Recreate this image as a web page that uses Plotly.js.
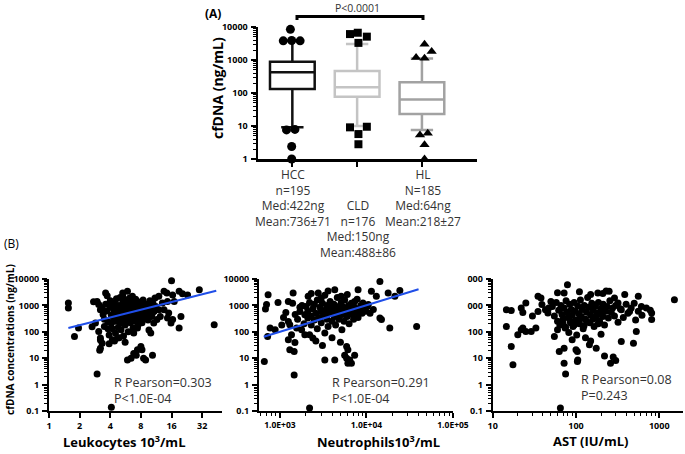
<!DOCTYPE html>
<html><head><meta charset="utf-8">
<script src="https://cdn.plot.ly/plotly-3.0.1.min.js"></script>
<style>html,body{margin:0;padding:0;background:#fff}#chart{width:685px;height:454px}</style>
</head><body><div id="chart"></div>
<script>
// ---------- Panel A data ----------
const groups = ['HCC','CLD','HL'];
const groupLabels = ['HCC<br>n=195<br>Med:422ng<br>Mean:736±71','CLD<br>n=176<br>Med:150ng<br>Mean:488±86','HL<br>N=185<br>Med:64ng<br>Mean:218±27'];
const q1 = [132, 77, 23];
const med = [422, 150, 64];
const q3 = [890, 465, 210];
const lowW = [9.1, 10, 7.6];
const upW = [3800, 3030, 1120];
const hccOut = [8500, 3800, 3900, 3800, 7.6, 7.9, 2.4, 1.0];
const hccJit = [-0.03, -0.14, -0.01, 0.12, -0.09, 0.04, -0.01, -0.01];
const cldOut = [6100, 6700, 5100, 3300, 9.1, 9.5, 5.7, 2.8];
const cldJit = [-0.11, 0.01, 0.15, 0.02, -0.11, 0.15, 0.02, 0.02];
const hlOut = [3000, 1800, 1200, 1130, 5.3, 6.0, 2.7, 1.0];
const hlJit = [0.04, 0.15, -0.09, 0.04, -0.03, 0.09, 0.04, 0.04];
const yTicksA = ['1','10','100','1000','10000'];

// ---------- Panel B data ----------
const leukoX = [1.55,1.55,1.78,1.95,2.65,2.74,2.97,4.1,3.6,3.73,2.97,3.08,3.2,2.86,3.08,3.2,3.33,3.2,5.9,6.4,7.2,4.2,4.7,5.3,5.3,5.9,6.6,7.4,7.1,3.2,3.15,
 16,30,19,20.5,23,13.5,14.4,16.4,12,13,14.6,11.2,12,13.5,15,17,19.8,19,42,15.8,16.4,14.6,12.4,11.5,10.4,10.7,9.6,10,7.4,6.8,8,8.2,8.5,8.9,10.4,6.8,7.4,
 3.3,3.4,3.5,3.5,3.6,3.7,3.8,3.8,3.9,4.0,4.0,4.1,4.1,4.2,4.3,4.3,4.4,4.4,4.5,4.5,4.6,4.6,4.7,4.8,4.8,4.9,5.0,5.0,5.1,5.1,5.2,5.2,5.3,5.4,5.4,5.5,5.5,5.6,5.7,5.7,5.8,5.9,6.0,6.0,6.1,6.2,6.2,6.3,6.4,6.5,6.5,6.6,6.7,6.8,6.9,7.0,7.0,7.1,7.2,7.3,7.4,7.5,7.6,7.7,7.8,7.9,8.0,8.1,8.2,8.3,8.4,8.5,8.6,8.8,9.0,9.2,9.4,9.6,9.8,10.0,10.2,10.5,10.8,11.0,4.4,3.9,5.6,4.9,
 4.5,5.0,5.5,6.0,6.5,7.0,7.5,8.0,5.2,6.2,7.2,4.8];
const leukoY = [1230,800,66,138,155,1380,2.5,0.14,2950,2340,1400,1070,690,214,103,58,37,24,8.6,10,13,50,58,2950,2200,3400,2200,1400,910,49,20,
 8500,3900,3400,2750,2500,3400,2950,2500,2200,1230,1400,910,690,690,510,1400,380,138,185,214,290,330,380,290,510,214,118,90,138,90,28,21,10,8.6,13,15,21,
 800,450,300,160,1100,620,240,130,75,1500,900,420,210,130,700,330,1200,560,90,250,1800,780,400,150,1000,600,300,2000,120,850,450,220,1300,650,70,350,1000,180,500,1600,800,280,1200,100,600,400,1900,220,900,1400,500,300,140,700,1100,450,250,1700,600,350,800,180,1000,500,300,1300,650,420,220,900,1600,550,350,750,1100,450,280,650,1500,900,380,1200,600,1900,45,35,40,60,
 520,380,720,330,820,560,400,1000,600,450,700,260];
const leukoFitX = [1.55, 44];
const leukoFitY = [140, 3600];

const neutX = [660,730,700,680,720,770,880,1250,1420,1460,2200,1170,1250,1300,1250,1360,1490,1300,1460,1700,1940,2100,1560,1780,1940,2120,2200,2400,2770,3000,3300,4300,4300,5100,5600,5900,6100,
 14300,8000,11400,13000,17800,21300,24300,7300,9100,10500,14300,14900,18600,38000,5900,6100,6400,7300,6700,
 2000,2100,2200,2300,2300,2400,2500,2500,2600,2700,2700,2800,2900,3000,3000,3100,3200,3300,3300,3400,3500,3500,3600,3700,3800,3900,4000,4100,4200,4300,4400,4500,4600,4700,4800,5000,5100,5200,5300,5400,5500,5600,5800,6000,6200,6300,6500,6700,6900,7100,7300,7600,7800,8000,8300,8600,8900,9300,9800,10200,11000,12000,1600,1800,1900,1700,1500,1400,2600,3100,4000,5000,2300,3600,6000,950,1100,1050,
 3200,3700,4200,4700,5200,5700,6200,2900,3400,4400];
const neutY = [7.5,2550,1070,730,66,138,120,1400,2950,2.3,0.13,540,245,185,50,77,39,21,18,590,440,330,138,120,77,2200,77,58,2950,1900,8.6,8.6,3900,2200,13,10,6.5,
 8100,3900,3400,2200,2950,2200,3700,1400,1230,1070,330,290,138,160,28,21,8.6,13,6.5,
 900,600,1300,400,180,750,280,1100,500,130,1600,350,850,220,600,1200,420,90,2400,700,300,1000,160,500,1400,800,250,600,1100,380,180,900,2000,500,300,700,1300,120,450,850,250,1600,600,380,1000,200,700,1200,450,300,850,550,1700,350,700,1000,500,800,600,900,500,700,300,1000,200,850,450,1200,45,30,60,40,2800,3500,2600,1300,350,180,
 520,750,420,650,900,480,560,330,380,800];
const neutFitX = [650, 40000];
const neutFitY = [65, 4100];

const astX = [79,72,14.6,16.7,22,23,25,30,35,38,35,39,43,46,14.6,20,22,23,25,29,33,16.7,17.5,55,60,63,72,72,75,65,104,104,
 1520,183,210,385,560,320,290,350,440,610,810,810,530,350,490,105,100,145,175,220,280,300,260,
 52,55,58,60,62,64,66,68,70,72,74,76,78,80,82,84,86,88,90,92,95,98,100,102,105,108,110,113,116,119,122,126,130,134,138,142,146,150,155,160,165,170,175,180,186,192,198,205,212,220,228,236,245,255,265,275,290,300,320,340,370,400,420,460,500,520,560,620,700,780,130,90,150,200,60,110,150,230,250,47,50,
 70,85,95,115,135,160,185,210,75,125];
const astY = [6000,2950,690,640,790,540,1230,400,2200,1900,590,1070,690,510,160,77,120,138,103,103,138,28,5.6,66,120,18,24,6.5,2.5,0.13,18,7.5,
 1640,2950,2800,2600,2200,1230,1900,690,590,910,510,290,103,43,37,8.6,21,32,24,12,11,8.2,6.5,
 900,400,1300,250,650,180,1000,450,300,800,140,1500,550,350,95,1100,220,700,420,160,1300,600,280,75,950,480,200,1600,380,700,130,1000,300,550,2000,850,220,420,1200,650,160,900,350,500,1300,250,750,450,1100,180,600,900,330,1500,550,800,400,1000,230,750,350,1100,500,800,1200,280,600,420,800,650,60,50,45,80,3000,3300,2600,3500,3400,800,1400,
 200,260,180,320,240,300,200,380,150,170];

// ---------- helpers ----------
const W = 685, H = 454;
const px = v => v / W;
const py = v => 1 - v / H;
const FONT = 'Open Sans, Lato, sans-serif';
function logMinor(lo, hi){ const out=[]; for(let e=lo;e<hi;e++){ for(let m=2;m<=9;m++) out.push(m*Math.pow(10,e)); } return out; }

const traces = [];
const boxColors = ['#111111','#c4c4c4','#a2a2a2'];
for (let i=0;i<3;i++){
  traces.push({type:'box', x:[i], q1:[q1[i]], median:[med[i]], q3:[q3[i]], lowerfence:[lowW[i]], upperfence:[upW[i]],
    width:0.69, whiskerwidth:0.5, boxpoints:false, line:{color:boxColors[i], width:2.5}, fillcolor:'rgba(255,255,255,0)',
    xaxis:'x', yaxis:'y', hoverinfo:'skip', showlegend:false});
}
traces.push({type:'scatter', mode:'markers', x:hccJit.map(j=>0+j), y:hccOut, marker:{symbol:'circle', size:9, color:'#000'}, cliponaxis:false, xaxis:'x', yaxis:'y', showlegend:false});
traces.push({type:'scatter', mode:'markers', x:cldJit.map(j=>1+j), y:cldOut, marker:{symbol:'square', size:8, color:'#000'}, cliponaxis:false, xaxis:'x', yaxis:'y', showlegend:false});
traces.push({type:'scatter', mode:'markers', x:hlJit.map(j=>2+j), y:hlOut, marker:{symbol:'triangle-up', size:9, color:'#000'}, cliponaxis:false, xaxis:'x', yaxis:'y', showlegend:false});

const dot = {symbol:'circle', size:7, color:'#000'};
traces.push({type:'scatter', mode:'markers', x:leukoX, y:leukoY, marker:dot, cliponaxis:false, xaxis:'x2', yaxis:'y2', showlegend:false});
traces.push({type:'scatter', mode:'lines', x:leukoFitX, y:leukoFitY, line:{color:'#1f4ee8', width:2}, xaxis:'x2', yaxis:'y2', showlegend:false});
traces.push({type:'scatter', mode:'markers', x:neutX, y:neutY, marker:dot, cliponaxis:false, xaxis:'x3', yaxis:'y3', showlegend:false});
traces.push({type:'scatter', mode:'lines', x:neutFitX, y:neutFitY, line:{color:'#1f4ee8', width:2}, xaxis:'x3', yaxis:'y3', showlegend:false});
traces.push({type:'scatter', mode:'markers', x:astX, y:astY, marker:dot, cliponaxis:false, xaxis:'x4', yaxis:'y4', showlegend:false});

const tf = {family:FONT, size:9, color:'#000', weight:'bold'};
function yB(ticktext, anchor, dom){
  return {type:'log', range:[-1,4], domain:dom, anchor:anchor, tickmode:'array', tickvals:[0.1,1,10,100,1000,10000], ticktext:ticktext,
    ticks:'outside', ticklen:5, tickwidth:2, tickcolor:'#000', showline:true, linewidth:2, linecolor:'#000', showgrid:false, zeroline:false,
    tickfont:tf, ticklabelstandoff:1, minor:{tickvals:logMinor(-1,4), ticks:'outside', ticklen:3, tickwidth:1, tickcolor:'#000', showgrid:false}};
}
const yDomB = [py(411), py(279)];
const layout = {
  width:W, height:H, margin:{l:0,r:0,t:0,b:0}, paper_bgcolor:'#fff', plot_bgcolor:'rgba(0,0,0,0)', showlegend:false,
  font:{family:FONT, color:'#333'},
  xaxis:{domain:[px(258),px(477)], range:[-0.53,2.85], anchor:'y', tickmode:'array', tickvals:[0,1,2], showticklabels:false, ticks:'outside', ticklen:5, tickwidth:2, tickcolor:'#000',
    showline:true, linewidth:2.5, linecolor:'#000', showgrid:false, zeroline:false},
  yaxis:{type:'log', domain:[py(159),py(27)], range:[0,4], anchor:'x', tickmode:'array', tickvals:[1,10,100,1000,10000], ticktext:yTicksA, ticks:'outside', ticklen:5, tickwidth:2, tickcolor:'#000',
    showline:true, linewidth:2.5, linecolor:'#000', showgrid:false, zeroline:false, tickfont:tf, ticklabelstandoff:1,
    minor:{tickvals:logMinor(0,4), ticks:'outside', ticklen:3, tickwidth:1, tickcolor:'#000', showgrid:false}},
  xaxis2:{type:'log', domain:[px(49),px(222)], range:[0,1.70], anchor:'y2', tickmode:'array', tickvals:[1,2,4,8,16,32], ticktext:['1','2','4','8','16','32'],
    ticks:'outside', ticklen:5, tickwidth:2, tickcolor:'#000', showline:true, linewidth:2, linecolor:'#000', showgrid:false, zeroline:false, tickfont:tf},
  yaxis2:yB(['0.1','1','10','100','1000','10000'], 'x2', yDomB),
  xaxis3:{type:'log', domain:[px(259),px(453)], range:[2.758,5.0], anchor:'y3', tickmode:'array', tickvals:[1000,10000,100000], ticktext:['1.0E+03','1.0E+04','1.0E+05'],
    ticks:'outside', ticklen:5, tickwidth:2, tickcolor:'#000', showline:true, linewidth:2, linecolor:'#000', showgrid:false, zeroline:false, tickfont:{family:FONT,size:8.5,color:'#000',weight:'bold'},
    minor:{tickvals:logMinor(2,5), ticks:'outside', ticklen:3, tickwidth:1, tickcolor:'#000', showgrid:false}},
  yaxis3:yB(['0.1','1','10','100','1000','10000'], 'x3', yDomB),
  xaxis4:{type:'log', domain:[px(492.7),px(683)], range:[1,3.285], anchor:'y4', tickmode:'array', tickvals:[10,100,1000], ticktext:['10','100','1000'],
    ticks:'outside', ticklen:5, tickwidth:2, tickcolor:'#000', showline:true, linewidth:2, linecolor:'#000', showgrid:false, zeroline:false, tickfont:tf,
    minor:{tickvals:logMinor(1,3), ticks:'outside', ticklen:3, tickwidth:1, tickcolor:'#000', showgrid:false}},
  yaxis4:yB(['0.1','1','10','100','000','000'], 'x4', yDomB),
  shapes:[
    {type:'path', xref:'paper', yref:'paper', path:`M ${px(297)} ${py(20)} L ${px(297)} ${py(16.5)} L ${px(423)} ${py(16.5)} L ${px(423)} ${py(20)}`, line:{color:'#000', width:3}}
  ],
  annotations:[]
};
const A = layout.annotations;
function txt(text, x, y, opt){ A.push(Object.assign({text:text, xref:'paper', yref:'paper', x:px(x), y:py(y), showarrow:false, xanchor:'center', yanchor:'middle',
  font:{family:FONT, size:12, color:'#333'}}, opt||{})); }
txt('<b>(A)</b>', 213, 13, {font:{family:FONT,size:12,color:'#000'}});
txt('P<0.0001', 357, 0, {yanchor:'top', borderpad:0, font:{family:FONT,size:10.5,color:'#333'}});
txt('<b>cfDNA (ng/mL)</b>', 218, 88, {textangle:-90, font:{family:FONT,size:14,color:'#000'}});
txt(groupLabels[0], 293, 198, {font:{family:FONT,size:12,color:'#333'}});
txt(groupLabels[1], 358, 229, {font:{family:FONT,size:12,color:'#333'}});
txt(groupLabels[2], 423, 198, {font:{family:FONT,size:12,color:'#333'}});
txt('(B)', 11, 243, {font:{family:FONT,size:12,color:'#000'}});
txt('<b>cfDNA concentrations (ng/mL)</b>', 10, 340, {textangle:-90, font:{family:FONT,size:10,color:'#000'}});
txt('R Pearson=0.303<br>P<1.0E-04', 112, 390, {xanchor:'left', align:'left', font:{family:FONT,size:12.5,color:'#333'}});
txt('R Pearson=0.291<br>P<1.0E-04', 330, 390, {xanchor:'left', align:'left', font:{family:FONT,size:12.5,color:'#333'}});
txt('R Pearson=0.08<br>P=0.243', 579, 387, {xanchor:'left', align:'left', font:{family:FONT,size:12.5,color:'#333'}});
txt('<b>Leukocytes 10<sup>3</sup>/mL</b>', 124, 441, {font:{family:FONT,size:13,color:'#000'}});
txt('<b>Neutrophils10<sup>3</sup>/mL</b>', 379, 441, {font:{family:FONT,size:13,color:'#000'}});
txt('<b>AST (IU/mL)</b>', 590, 441, {font:{family:FONT,size:13,color:'#000'}});

Plotly.newPlot('chart', traces, layout, {staticPlot:true, displayModeBar:false});
</script></body></html>
